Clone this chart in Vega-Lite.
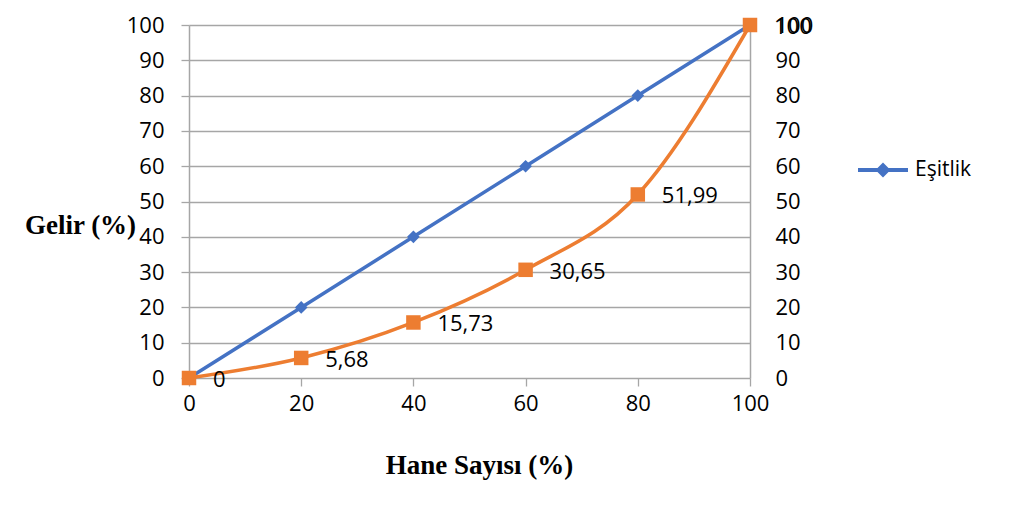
{
  "$schema": "https://vega.github.io/schema/vega-lite/v6.json",
  "autosize": "none",
  "width": 561,
  "height": 353,
  "padding": {"left": 189, "top": 25, "right": 275, "bottom": 133},
  "background": "white",
  "config": {
    "view": {"stroke": null},
    "font": "Open Sans",
    "axis": {"labelFont": "Open Sans", "labelFontSize": 22, "labelColor": "#000000", "titleFont": "Liberation Serif", "titleFontWeight": "bold", "titleFontSize": 27, "titleColor": "#000000", "gridColor": "#a6a6a6", "gridWidth": 1.3, "domainColor": "#a6a6a6", "tickColor": "#a6a6a6", "domainWidth": 1.5, "tickWidth": 1.3, "labelFlush": false}
  },
  "datasets": {
    "equal": [
      {"x": 0, "y": 0, "series": "Eşitlik"},
      {"x": 20, "y": 20, "series": "Eşitlik"},
      {"x": 40, "y": 40, "series": "Eşitlik"},
      {"x": 60, "y": 60, "series": "Eşitlik"},
      {"x": 80, "y": 80, "series": "Eşitlik"},
      {"x": 100, "y": 100, "series": "Eşitlik"}
    ],
    "lorenz": [
      {"x": 0, "y": 0, "label": "0"},
      {"x": 20, "y": 5.68, "label": "5,68"},
      {"x": 40, "y": 15.73, "label": "15,73"},
      {"x": 60, "y": 30.65, "label": "30,65"},
      {"x": 80, "y": 51.99, "label": "51,99"},
      {"x": 100, "y": 100, "label": "100"}
    ]
  },
  "layer": [
    {
      "data": {"name": "equal"},
      "mark": {"type": "line", "color": "#4472C4", "strokeWidth": 3.5},
      "encoding": {
        "x": {"field": "x", "type": "quantitative", "scale": {"domain": [0, 100], "nice": false},
          "axis": {"values": [0, 20, 40, 60, 80, 100], "grid": false, "domain": false, "tickSize": 8, "labelPadding": 7, "labelFlush": false, "title": "Hane Sayısı (%)", "titleX": 290, "titleY": 87, "titleAlign": "center", "titleBaseline": "middle"}},
        "y": {"field": "y", "type": "quantitative", "scale": {"domain": [0, 100], "nice": false},
          "axis": {"orient": "left", "values": [0, 10, 20, 30, 40, 50, 60, 70, 80, 90, 100], "grid": true, "tickSize": 8, "labelPadding": 17, "title": "Gelir (%)", "titleAngle": 0, "titleX": -109, "titleY": 200, "titleAlign": "center", "titleBaseline": "middle"}}
      }
    },
    {
      "data": {"name": "equal"},
      "mark": {"type": "point", "shape": "diamond", "filled": true, "size": 160, "opacity": 1},
      "encoding": {
        "x": {"field": "x", "type": "quantitative"},
        "y": {"field": "y", "type": "quantitative", "axis": {"orient": "right", "values": [0, 10, 20, 30, 40, 50, 60, 70, 80, 90, 100], "grid": false, "domain": true, "ticks": false, "labelPadding": 25, "title": null}},
        "color": {"field": "series", "type": "nominal", "scale": {"range": ["#4472C4"]},
          "legend": {"title": null, "orient": "none", "legendX": 669, "legendY": 120, "symbolType": "M-1,-0.08H1V0.08H-1Z M0,-0.3L0.3,0L0,0.3L-0.3,0Z", "symbolSize": 2500, "symbolStrokeWidth": 0, "labelFont": "Open Sans", "labelFontSize": 21, "labelColor": "#000000", "labelOffset": 7}}
      }
    },
    {
      "data": {"name": "lorenz"},
      "mark": {"type": "line", "color": "#ED7D31", "strokeWidth": 3.5, "interpolate": "monotone"},
      "encoding": {
        "x": {"field": "x", "type": "quantitative"},
        "y": {"field": "y", "type": "quantitative", "axis": null}
      }
    },
    {
      "data": {"name": "lorenz"},
      "mark": {"type": "square", "color": "#ED7D31", "filled": true, "size": 210, "opacity": 1},
      "encoding": {
        "x": {"field": "x", "type": "quantitative"},
        "y": {"field": "y", "type": "quantitative", "axis": null}
      }
    },
    {
      "data": {"name": "lorenz"},
      "mark": {"type": "text", "align": "left", "baseline": "middle", "dx": 24, "dy": 2, "font": "Open Sans", "fontSize": 22, "color": "#000000"},
      "encoding": {
        "x": {"field": "x", "type": "quantitative"},
        "y": {"field": "y", "type": "quantitative", "axis": null},
        "text": {"field": "label"}
      }
    }
  ],
  "resolve": {"axis": {"y": "independent"}}
}
